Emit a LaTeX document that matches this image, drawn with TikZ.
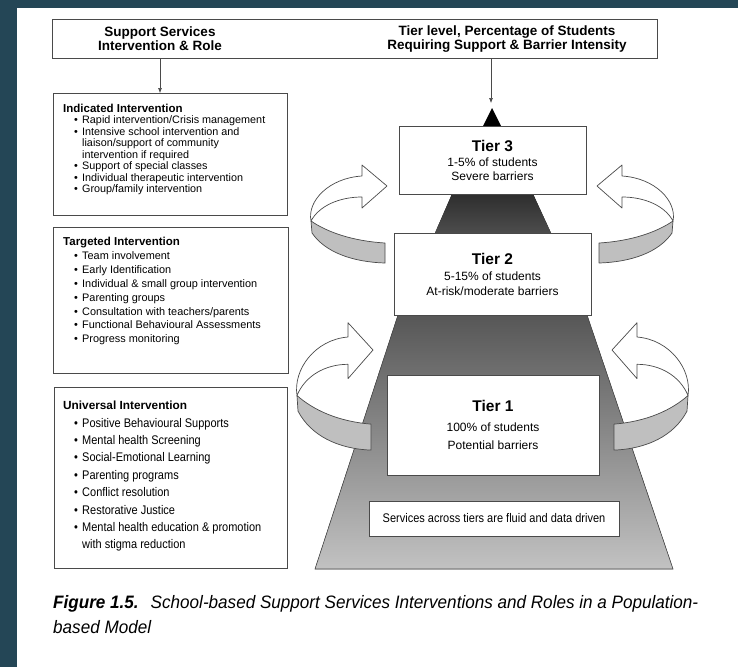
\documentclass[tikz,border=0pt]{standalone}
\usepackage{fontspec}
\setmainfont{Liberation Sans}
\newfontfamily\narrowfont[FakeStretch=0.88]{Liberation Sans}
\newfontfamily\capfont[FakeStretch=0.95]{Liberation Sans}
\usetikzlibrary{arrows.meta}

\definecolor{slate}{HTML}{244656}
\definecolor{edgegray}{HTML}{4A4A4A}
\definecolor{bandgray}{HTML}{BFBFBF}

% bullet lines in the left boxes
\newcommand{\itm}[1]{\hspace*{11pt}\makebox[8pt][l]{\textbullet}#1}
\newcommand{\cnt}[1]{\hspace*{19pt}#1}

\tikzset{
  infobox/.style={draw=edgegray, line width=0.8pt, fill=white, inner sep=0pt},
  infotext/.style={anchor=north west, align=left, inner sep=0pt},
  tierbox/.style={draw=edgegray, line width=0.8pt, fill=white, align=center, inner sep=0pt},
  flow/.style={draw=edgegray, line width=0.6pt, -{Latex[length=5pt,width=4pt]}},
  turn/.style={draw=edgegray, line width=0.7pt, line join=round},
  pics/turnarrow/.style={code={
    % back part of the ribbon with the head
    \filldraw[turn, fill=white] (-76,35) .. controls (-80,15) and (-58,-8) .. (-25,-10)
      -- (-25,-21) -- (0,0) -- (-25,22) -- (-25,11)
      .. controls (-48,11) and (-68,20) .. (-76,35) -- cycle;
    % front part of the ribbon
    \filldraw[turn, fill=bandgray] (-76,35) .. controls (-60,46) and (-35,55) .. (-2,57)
      -- (-2,77) .. controls (-35,76) and (-62,66) .. (-75,47) -- cycle;
  }}
}

\begin{document}
\begin{tikzpicture}[x=1pt,y=-1pt]
\useasboundingbox (0,0) rectangle (738,667);
\fill[slate] (0,0) rectangle (738,667);
\fill[white] (17,8) rectangle (738,667);

% Header
\node[infobox, minimum width=605pt, minimum height=39pt] (header) at (354.5,38.5) {};
\node[align=center, font=\fontsize{13.5}{14}\selectfont\bfseries] (hdleft) at (160,39)
  {Support Services\\ Intervention \& Role};
\node[align=center, font=\fontsize{13.5}{14}\selectfont\bfseries] (hdright) at (507,39)
  {Tier level, Percentage of Students\\ Requiring Support \& Barrier Intensity};

% Pyramid
\fill[top color=black!82, bottom color=black!70] (452,194) -- (533,194) -- (551,233) -- (435,233) -- cycle;
\filldraw[draw=edgegray, line width=0.6pt, top color=black!66, bottom color=black!24]
  (398,315) -- (587,315) -- (673,569) -- (315,569) -- cycle;
\fill[black] (483,126) -- (492,108) -- (501,126) -- cycle;

% Tier boxes
\node[tierbox, minimum width=187pt, minimum height=68pt, font=\fontsize{12}{14}\selectfont] (tier3) at (492.5,160)
  {{\fontsize{15.5}{15.5}\selectfont\bfseries Tier 3}\\[1pt] 1-5\% of students\\ Severe barriers};
\node[tierbox, minimum width=197pt, minimum height=82pt, font=\fontsize{12}{14.5}\selectfont] (tier2) at (492.5,274)
  {{\fontsize{15.5}{15.5}\selectfont\bfseries Tier 2}\\[2pt] 5-15\% of students\\ At-risk/moderate barriers};
\node[tierbox, minimum width=212pt, minimum height=100pt, font=\fontsize{12}{18}\selectfont] (tier1) at (493,425)
  {{\fontsize{15.5}{15.5}\selectfont\bfseries Tier 1}\\[2pt] 100\% of students\\ Potential barriers};
\node[tierbox, minimum width=250pt, minimum height=35pt, font=\narrowfont\fontsize{12.5}{14}\selectfont] (fluid) at (494,518.5)
  {Services across tiers are fluid and data driven};

% Turning arrows
\pic at (387,186) {turnarrow};
\pic[xscale=-1] at (597,186) {turnarrow};
\pic[yscale=1.3] at (373,350) {turnarrow};
\pic[xscale=-1, yscale=1.3] at (612,350) {turnarrow};

% Left boxes
\node[infobox, anchor=north west, minimum width=234pt, minimum height=122pt] (indicated) at (53,93) {};
\node[infotext, font=\fontsize{10.8}{11.5}\selectfont] (indicatedtext) at (63,103.6)
  {{\fontsize{11.5}{11.5}\selectfont\bfseries Indicated Intervention}\\
   \itm{Rapid intervention/Crisis management}\\
   \itm{Intensive school intervention and}\\
   \cnt{liaison/support of community}\\
   \cnt{intervention if required}\\
   \itm{Support of special classes}\\
   \itm{Individual therapeutic intervention}\\
   \itm{Group/family intervention}};

\node[infobox, anchor=north west, minimum width=235pt, minimum height=146pt] (targeted) at (53,227) {};
\node[infotext, font=\fontsize{10.9}{13.9}\selectfont] (targetedtext) at (63,237)
  {{\fontsize{11.5}{11.5}\selectfont\bfseries Targeted Intervention}\\
   \itm{Team involvement}\\
   \itm{Early Identification}\\
   \itm{Individual \& small group intervention}\\
   \itm{Parenting groups}\\
   \itm{Consultation with teachers/parents}\\
   \itm{Functional Behavioural Assessments}\\
   \itm{Progress monitoring}};

\node[infobox, anchor=north west, minimum width=233pt, minimum height=181pt] (universal) at (54,387) {};
\node[infotext, font=\narrowfont\fontsize{12.5}{17.4}\selectfont] (universaltext) at (63,401)
  {{\normalfont\fontsize{11.8}{11.8}\selectfont\bfseries Universal Intervention}\\
   \itm{Positive Behavioural Supports}\\
   \itm{Mental health Screening}\\
   \itm{Social-Emotional Learning}\\
   \itm{Parenting programs}\\
   \itm{Conflict resolution}\\
   \itm{Restorative Justice}\\
   \itm{Mental health education \& promotion}\\
   \cnt{with stigma reduction}};

% Header arrows
\coordinate (indtop) at (160,93);
\coordinate (apex) at (491,103);
\draw[flow] (header.south -| indtop) -- (indtop);
\draw[flow] (header.south -| apex) -- (apex);

% Caption
\node[anchor=base west, align=left, inner sep=0pt, font=\capfont\fontsize{18}{25}\selectfont] (caption) at (53,633)
  {{\bfseries\itshape Figure 1.5.}\hspace{12pt}{\itshape School-based Support Services Interventions and Roles in a Population-}\\
   {\itshape based Model}};
\end{tikzpicture}
\end{document}
